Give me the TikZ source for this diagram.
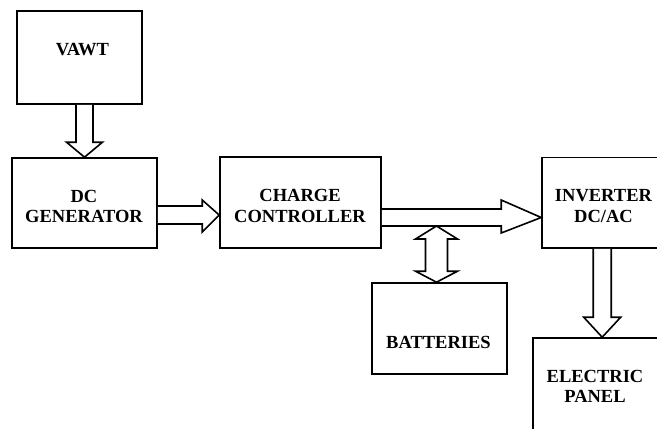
\documentclass[tikz,border=0pt]{standalone}
\usepackage{fontspec}
\setmainfont{Liberation Serif}[BoldFont={Liberation Serif Bold}]
\newfontfamily\tnrbold{Liberation Serif Bold}
\usetikzlibrary{calc}
\begin{document}
\begin{tikzpicture}[x=1pt,y=-1pt,
  box/.style={draw, line width=1.6pt, inner sep=0pt, fill=white},
  lbl/.style={font=\tnrbold\fontsize{18.5}{20.5}\selectfont, align=center, inner sep=0pt},
  arr/.style={draw, line width=1.6pt, fill=white, line join=miter}]
\useasboundingbox (0,0) rectangle (657,429);
\clip (0,0) rectangle (657,429);
% boxes
\node[box, minimum width=125pt, minimum height=93pt] (vawt) at (79.5,57.5) {};
\node[box, minimum width=145pt, minimum height=90pt] (dc) at (84.5,203) {};
\node[box, minimum width=161pt, minimum height=91pt] (cc) at (300.5,202.5) {};
\node[box, minimum width=138pt, minimum height=90.5pt] (inv) at (611,202.75) {};
\node[box, minimum width=135pt, minimum height=91pt] (bat) at (439.5,328.5) {};
\node[box, minimum width=147pt, minimum height=122pt] (ep) at (606.5,399) {};
% labels
\node[lbl] (vawtT) at (82.5,50) {VAWT};
\node[lbl] (dcT) at (84,206.5) {DC\\GENERATOR};
\node[lbl] (ccT) at (300,206) {CHARGE\\CONTROLLER};
\node[lbl] (invT) at (603.5,206) {INVERTER\\DC/AC};
\node[lbl] (batT) at (438.5,342) {BATTERIES};
\node[lbl] (epT) at (595,386.5) {ELECTRIC\\PANEL};
% arrow VAWT -> DC
\coordinate (a1s) at (dc.north |- vawt.south);
\coordinate (a1e) at (dc.north);
\draw[arr] ($(a1s)+(-8.5,0)$) -- ($(a1e)+(-8.5,-15)$) -- ($(a1e)+(-18,-15)$) -- (a1e)
  -- ($(a1e)+(18,-15)$) -- ($(a1e)+(8.5,-15)$) -- ($(a1s)+(8.5,0)$);
% arrow DC -> CC
\coordinate (a2s) at ($(dc.east)+(0,12)$);
\coordinate (a2e) at (a2s -| cc.west);
\draw[arr] ($(a2s)+(0,-9)$) -- ($(a2e)+(-17,-9)$) -- ($(a2e)+(-17,-15)$) -- (a2e)
  -- ($(a2e)+(-17,17)$) -- ($(a2e)+(-17,9)$) -- ($(a2s)+(0,9)$);
% arrow CC -> INV
\coordinate (a3s) at ($(cc.east)+(0,15)$);
\coordinate (a3e) at (a3s -| inv.west);
\draw[arr] ($(a3s)+(0,-8.5)$) -- ($(a3e)+(-40,-8.5)$) -- ($(a3e)+(-40,-17.5)$) -- (a3e)
  -- ($(a3e)+(-40,15.5)$) -- ($(a3e)+(-40,8.5)$) -- ($(a3s)+(0,8.5)$);
% double arrow CC-line <-> BAT
\coordinate (dbt) at ($(bat.north)+(-3,0)$);
\coordinate (dtp) at ($(a3s -| dbt)+(0,8.5)$);
\draw[arr] (dtp) -- ($(dtp)+(21,13)$) -- ($(dtp)+(11,13)$) -- ($(dbt)+(11,-11)$)
  -- ($(dbt)+(21,-11)$) -- (dbt) -- ($(dbt)+(-21,-11)$) -- ($(dbt)+(-11,-11)$)
  -- ($(dtp)+(-11,13)$) -- ($(dtp)+(-21,13)$) -- cycle;
% arrow INV -> EP
\coordinate (a4s) at ($(inv.south west)+(61,0)$);
\coordinate (a4e) at (a4s |- ep.north);
\draw[arr] ($(a4s)+(-9,0)$) -- ($(a4e)+(-9,-20)$) -- ($(a4e)+(-18.5,-20)$) -- (a4e)
  -- ($(a4e)+(18.5,-20)$) -- ($(a4e)+(9,-20)$) -- ($(a4s)+(9,0)$);
\end{tikzpicture}
\end{document}
